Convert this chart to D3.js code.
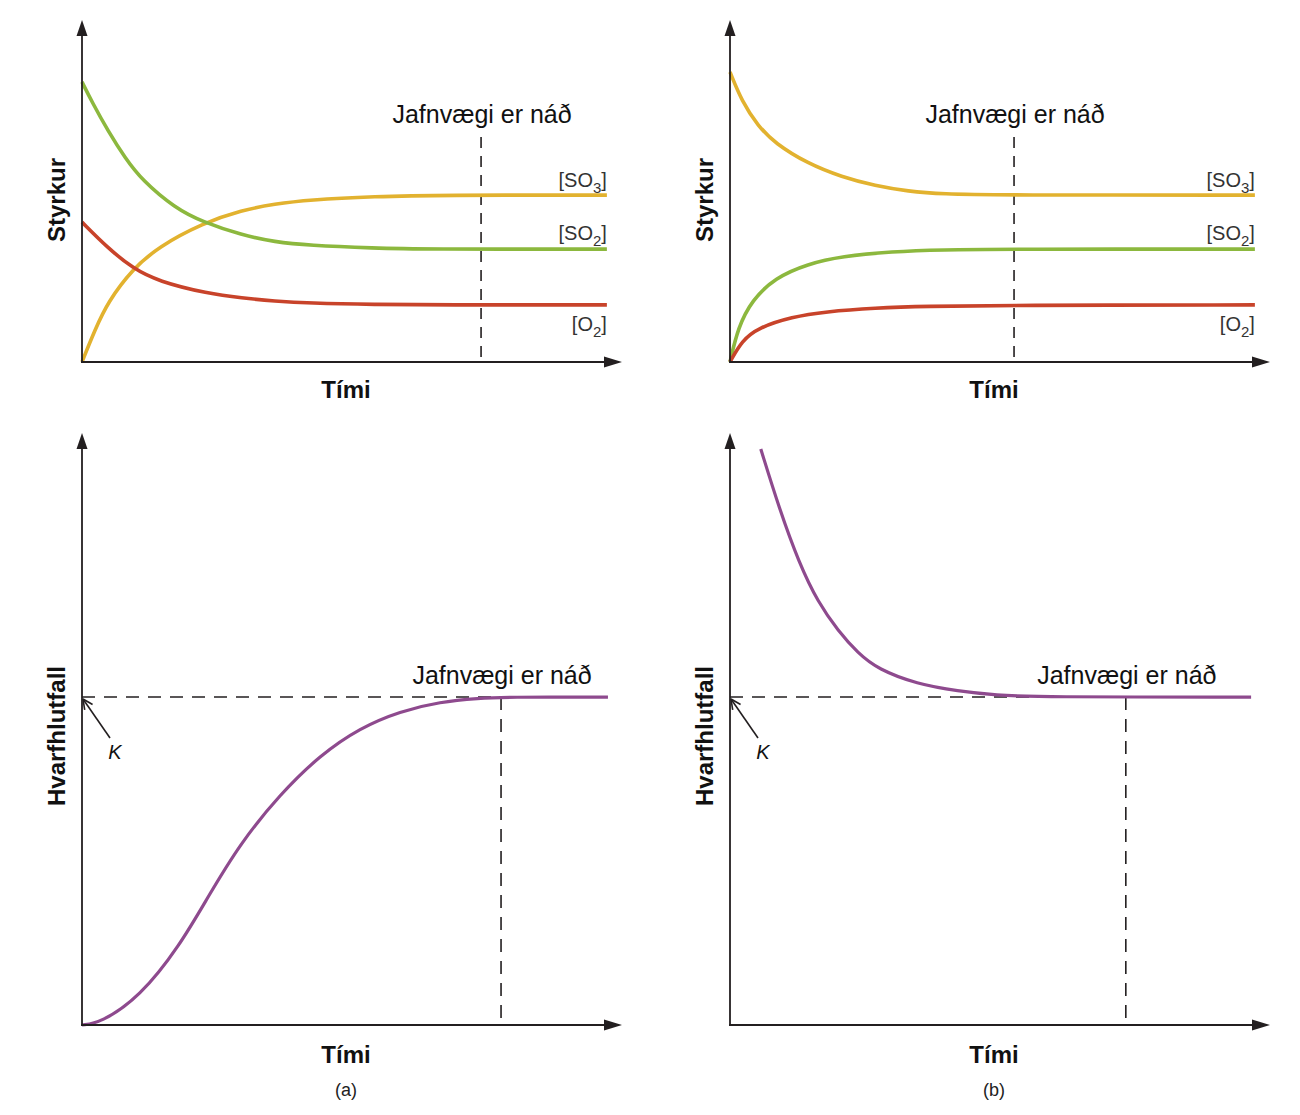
<!DOCTYPE html>
<html>
<head>
<meta charset="utf-8">
<script src="https://cdn.jsdelivr.net/npm/d3@7"></script>
<style>
  html, body { margin: 0; padding: 0; background: #fff; }
  svg { display: block; font-family: "Liberation Sans", Arial, sans-serif; }
</style>
</head>
<body>
<div id="chart"></div>
<script>
// time runs 0..100 along each x axis, concentration / quotient 0..100 up each y axis

// (a) top: concentration vs time, starting from reactants
var aSO3 = [[0,0],[2.4,9.4],[4.8,17.6],[9.4,27.2],[14.1,33.6],[22.4,40.6],[29.6,44.4],[35.7,46.2],[41.9,47.4],[54.3,48.4],[66.3,48.8],[97.2,48.8]];
var aSO2 = [[0,81.9],[1.9,75.9],[4.8,67.6],[8.0,59.6],[11.1,53.2],[17.2,45.0],[22.4,40.9],[29.6,37.1],[35.7,35.1],[41.9,34.1],[54.3,33.3],[62.6,33.0],[97.2,33.0]];
var aO2  = [[0,40.9],[4.8,33.3],[9.4,27.4],[14.1,23.6],[23.3,20.0],[29.6,18.7],[35.7,17.8],[41.9,17.2],[54.3,16.8],[66.0,16.7],[97.2,16.7]];

// (b) top: concentration vs time, starting from product
var bSO3 = [[0,84.8],[2.2,76.2],[5.2,69.0],[8.3,64.0],[14.4,58.0],[20.7,54.1],[26.9,51.5],[33.0,49.9],[39.3,49.1],[50.0,48.8],[97.2,48.8]];
var bSO2 = [[0,0],[1.5,10.2],[4.1,18.1],[8.3,24.6],[14.4,28.7],[20.7,30.9],[30.0,32.3],[39.3,32.8],[51.5,33.0],[97.2,33.0]];
var bO2  = [[0,0],[2.2,6.2],[5.2,10.0],[11.5,13.2],[17.6,14.7],[26.9,15.8],[36.1,16.3],[51.5,16.6],[97.2,16.7]];

// bottom: reaction quotient vs time
var aQ = [[0,0],[3.3,0.3],[10.7,4.7],[18.1,13.4],[23.3,21.6],[29.3,30.7],[36.7,39.0],[44.1,45.6],[51.5,50.2],[58.9,53.0],[66.3,54.6],[73.7,55.2],[78.1,55.4],[97.4,55.4]];
var bQ = [[5.7,97.3],[9.1,87.3],[12.8,78.0],[16.3,71.4],[20.0,66.6],[23.7,62.8],[27.4,60.1],[34.6,57.6],[42.2,56.4],[49.4,55.7],[56.9,55.4],[96.5,55.4]];

var kValue = 55.4;                 // equilibrium constant level
var eqTimes = [73.9, 52.6, 77.6, 73.3]; // topA, topB, bottomA, bottomB
var eqMarkTop = 65.8;              // top end of the dashed line in the top charts

var seriesNames = ['[SO3]', '[SO2]', '[O2]'];
var seriesColors = ['#e2b22f', '#8cb83e', '#c8432a'];
var quotientColor = '#8e4a8e';
var axisColor = '#231f20';

var svg = d3.select('#chart').append('svg')
  .attr('width', 1300)
  .attr('height', 1115);

var panels = [
  {ox: 82,  oy: 362,  top: 20,  kind: 'conc', data: [aSO3, aSO2, aO2], eq: eqTimes[0]},
  {ox: 730, oy: 362,  top: 20,  kind: 'conc', data: [bSO3, bSO2, bO2], eq: eqTimes[1]},
  {ox: 82,  oy: 1025, top: 433, kind: 'quot', data: [aQ], eq: eqTimes[2], caption: '(a)'},
  {ox: 730, oy: 1025, top: 433, kind: 'quot', data: [bQ], eq: eqTimes[3], caption: '(b)'}
];

panels.forEach(function (p) {
  var x = d3.scaleLinear().domain([0, 100]).range([p.ox, p.ox + 540]);
  var y = d3.scaleLinear().domain([0, 100]).range([p.oy, p.top]);
  var g = svg.append('g');

  var line = d3.line()
    .x(function (d) { return x(d[0]); })
    .y(function (d) { return y(d[1]); })
    .curve(d3.curveBasis);

  // dashed guides
  if (p.kind === 'conc') {
    g.append('line')
      .attr('x1', x(p.eq)).attr('x2', x(p.eq))
      .attr('y1', y(eqMarkTop)).attr('y2', y(0))
      .attr('stroke', axisColor).attr('stroke-width', 1.6)
      .attr('stroke-dasharray', '11,8');
  } else {
    g.append('line')
      .attr('x1', x(0)).attr('x2', x(p.eq))
      .attr('y1', y(kValue)).attr('y2', y(kValue))
      .attr('stroke', axisColor).attr('stroke-width', 1.6)
      .attr('stroke-dasharray', '13,9');
    g.append('line')
      .attr('x1', x(p.eq)).attr('x2', x(p.eq))
      .attr('y1', y(kValue)).attr('y2', y(0))
      .attr('stroke', axisColor).attr('stroke-width', 1.6)
      .attr('stroke-dasharray', '13,9');
  }

  // curves
  p.data.forEach(function (s, i) {
    g.append('path')
      .datum(s)
      .attr('fill', 'none')
      .attr('stroke', p.kind === 'conc' ? seriesColors[i] : quotientColor)
      .attr('stroke-width', p.kind === 'conc' ? 3.6 : 3.2)
      .attr('stroke-linecap', 'butt')
      .attr('d', line);
  });

  // axes with arrow heads
  g.append('line')
    .attr('x1', x(0)).attr('x2', x(0))
    .attr('y1', y(0)).attr('y2', y(100) + 10)
    .attr('stroke', axisColor).attr('stroke-width', 1.8);
  g.append('line')
    .attr('x1', x(0) - 1).attr('x2', x(100) - 12)
    .attr('y1', y(0)).attr('y2', y(0))
    .attr('stroke', axisColor).attr('stroke-width', 1.8);
  g.append('path')
    .attr('d', 'M' + x(0) + ',' + y(100) + 'l-5.5,16h11z')
    .attr('fill', axisColor);
  g.append('path')
    .attr('d', 'M' + x(100) + ',' + y(0) + 'l-18,-5.5v11z')
    .attr('fill', axisColor);

  // axis titles
  var titleY = p.kind === 'conc' ? 'Styrkur' : 'Hvarfhlutfall';
  g.append('text')
    .attr('transform', 'translate(' + (p.ox - 17) + ',' + (p.kind === 'conc' ? 200 : 736) + ') rotate(-90)')
    .attr('text-anchor', 'middle')
    .attr('font-weight', 'bold')
    .attr('font-size', 24)
    .attr('fill', '#111')
    .text(titleY);
  g.append('text')
    .attr('x', p.ox + 264)
    .attr('y', p.oy + (p.kind === 'conc' ? 36 : 38))
    .attr('text-anchor', 'middle')
    .attr('font-weight', 'bold')
    .attr('font-size', 24)
    .attr('fill', '#111')
    .text('Tími');

  // equilibrium label
  g.append('text')
    .attr('x', x(p.eq) + 1)
    .attr('y', p.kind === 'conc' ? 123 : 684)
    .attr('text-anchor', 'middle')
    .attr('font-size', 25)
    .attr('fill', '#111')
    .text('Jafnvægi er náð');

  if (p.kind === 'conc') {
    // series labels with subscripts
    var labelOffsets = [-8, -9, 26];
    p.data.forEach(function (s, i) {
      var last = s[s.length - 1];
      var name = seriesNames[i];
      var t = g.append('text')
        .attr('x', x(last[0]))
        .attr('y', y(last[1]) + labelOffsets[i])
        .attr('text-anchor', 'end')
        .attr('font-size', 20)
        .attr('fill', '#333');
      t.append('tspan').text(name.slice(0, -2));
      t.append('tspan').attr('font-size', 15).attr('dy', 6).text(name.slice(-2, -1));
      t.append('tspan').attr('dy', -6).text(']');
    });
  } else {
    // K pointer
    var tip = [x(0) + 1, y(kValue) + 2],
        tail = [x(0) + 28, y(kValue) + 41];
    g.append('line')
      .attr('x1', tail[0]).attr('y1', tail[1])
      .attr('x2', tip[0]).attr('y2', tip[1])
      .attr('stroke', axisColor).attr('stroke-width', 1.6);
    var ang = Math.atan2(tail[1] - tip[1], tail[0] - tip[0]);
    [-0.45, 0.45].forEach(function (da) {
      g.append('line')
        .attr('x1', tip[0]).attr('y1', tip[1])
        .attr('x2', tip[0] + 11 * Math.cos(ang + da))
        .attr('y2', tip[1] + 11 * Math.sin(ang + da))
        .attr('stroke', axisColor).attr('stroke-width', 1.6);
    });
    g.append('text')
      .attr('x', x(0) + 33)
      .attr('y', y(kValue) + 62)
      .attr('text-anchor', 'middle')
      .attr('font-style', 'italic')
      .attr('font-size', 20)
      .attr('fill', '#111')
      .text('K');

    g.append('text')
      .attr('x', p.ox + 264)
      .attr('y', 1096)
      .attr('text-anchor', 'middle')
      .attr('font-size', 18)
      .attr('fill', '#222')
      .text(p.caption);
  }
});
</script>
</body>
</html>
